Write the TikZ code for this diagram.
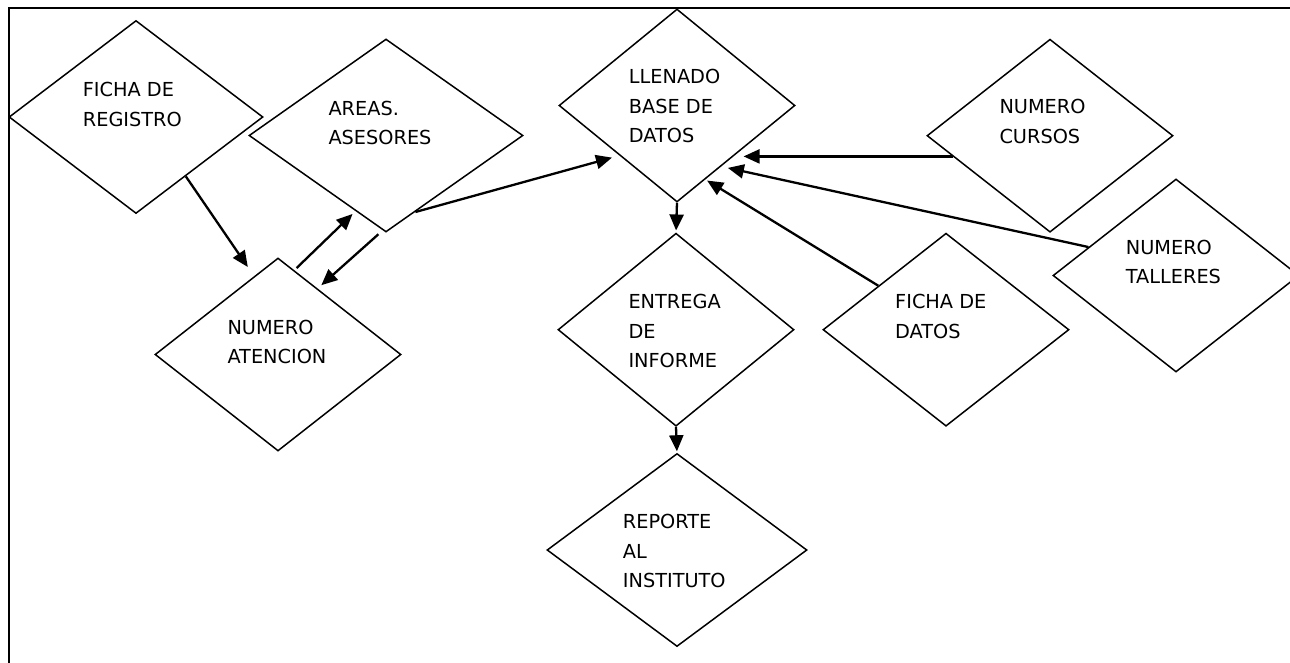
\documentclass[tikz,border=0pt]{standalone}
\usepackage{fontspec}
\setmainfont{DejaVu Sans}
\usetikzlibrary{shapes.geometric,arrows.meta,calc}

\tikzset{
  dia/.style={draw, diamond, inner sep=0pt, line width=1.5pt, minimum height=193pt},
  lbl/.style={anchor=base west, inner sep=0pt, font=\fontsize{19.3}{29.7}\selectfont},
  flow/.style={line width=2.3pt, -{Triangle[length=16pt,width=14pt]}},
  frameline/.style={line width=2.2pt},
}
\newcommand{\lines}[1]{\begin{tabular}[t]{@{}l@{}}#1\end{tabular}}

\begin{document}
\begin{tikzpicture}[x=1pt,y=-1pt]
  \clip (0,0) rectangle (1290,662);
  \fill[white] (0,0) rectangle (1290,662);

  % page frame (top and left rules)
  \draw[frameline] (1300,8) -- (9,8) -- (9,670);

  % decision shapes
  \node[dia, minimum width=254pt] (fr) at (136,117)   {};
  \node[dia, minimum width=274pt] (ar) at (386,135.5) {};
  \node[dia, minimum width=246pt] (na) at (278,354.5) {};
  \node[dia, minimum width=236pt] (ll) at (677,105.5) {};
  \node[dia, minimum width=236pt] (en) at (676,329.7) {};
  \node[dia, minimum width=260pt] (re) at (677,550)   {};
  \node[dia, minimum width=246pt] (nc) at (1050,135.7){};
  \node[dia, minimum width=246pt] (fd) at (946,329.7) {};
  \node[dia, minimum width=246pt] (nt) at (1176,275.5){};

  % texts
  \node[lbl] (frt) at (82.7,96.7)   {\lines{FICHA DE\\REGISTRO}};
  \node[lbl] (art) at (328.3,115)   {\lines{AREAS.\\ASESORES}};
  \node[lbl] (nat) at (227.3,334)   {\lines{NUMERO\\ATENCION}};
  \node[lbl] (llt) at (628.7,83.3)  {\lines{LLENADO\\BASE DE\\DATOS}};
  \node[lbl] (ent) at (628.3,308.3) {\lines{ENTREGA\\DE\\INFORME}};
  \node[lbl] (ret) at (622.7,528.3) {\lines{REPORTE\\AL\\INSTITUTO}};
  \node[lbl] (nct) at (999.3,113.3) {\lines{NUMERO\\CURSOS}};
  \node[lbl] (fdt) at (895,308.3)   {\lines{FICHA DE\\DATOS}};
  \node[lbl] (ntt) at (1125.7,254)  {\lines{NUMERO\\TALLERES}};

  % connectors
  \draw[flow, shorten >=11pt] (fr.-50) -- (na.107);
  \draw[flow, shorten <=3pt, shorten >=4pt] (na.79.5) -- (ar.-112.4);
  \draw[flow, shorten <=5.7pt, shorten >=4.9pt] (ar.-92.8) -- (na.59.7);
  \draw[flow, shorten >=7.7pt] (ar.-69.4) -- (ll.-139.7);
  \draw[flow, shorten >=2pt] (ll.south) -- (en.north);
  \draw[flow, shorten >=1.5pt] (en.south) -- (re.north);
  \draw[flow, shorten >=10pt] (nc.-168.2) -- (ll.-42 |- nc.-168.2);
  \draw[flow, shorten >=6.7pt] (nt.162.3) -- (ll.-54.7);
  \draw[flow, shorten >=2pt] (fd.147.8) -- (ll.-69.1);
\end{tikzpicture}
\end{document}
